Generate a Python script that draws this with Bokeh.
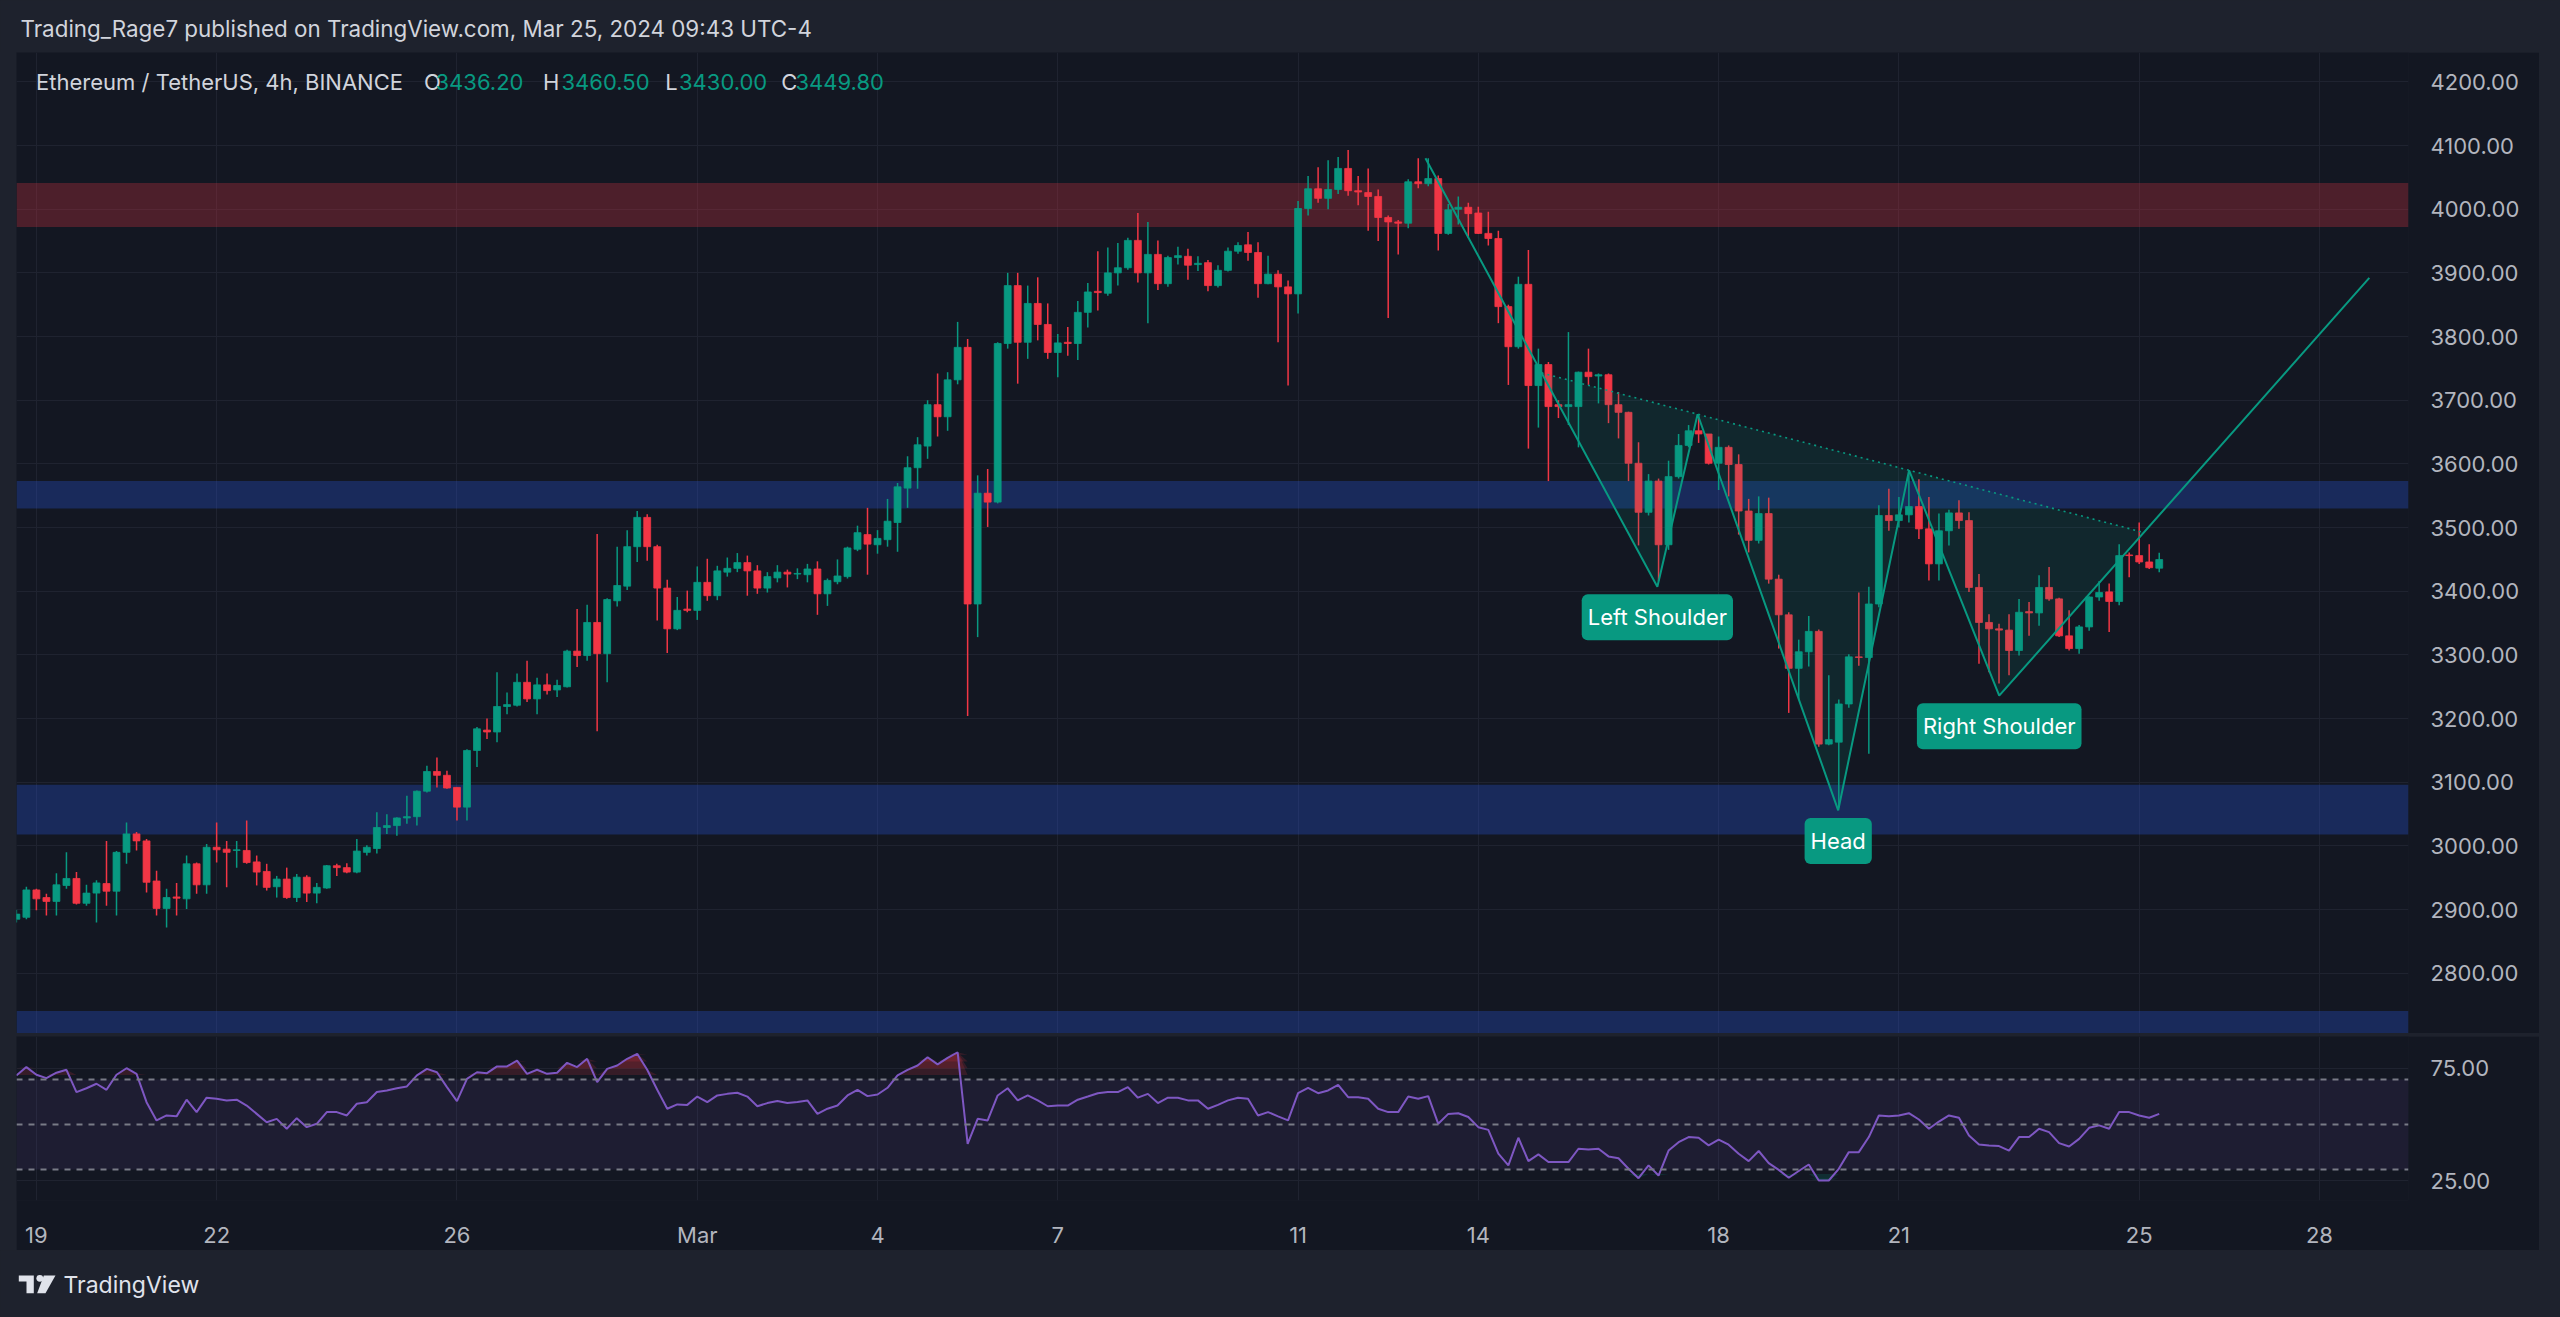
import numpy as np
import pandas as pd
from bokeh.plotting import figure
from bokeh.models import (Range1d, FixedTicker, NumeralTickFormatter, BoxAnnotation,
                          Span, Label, ColumnDataSource, Spacer)
from bokeh.layouts import column, row
from bokeh.embed import file_html
from bokeh.resources import INLINE

# ---------------- data ----------------
candle_start = "2024-02-18 16:00"   # 4h candles, UTC-4
axis_origin = "2024-02-19 00:00"

opens = [2885, 2888, 2931, 2919, 2913, 2938, 2949, 2910, 2926, 2941,
         2929, 2990, 3019, 3008, 2945, 2902, 2920, 2917, 2972, 2939,
         2998, 2995, 2993, 2993, 2975, 2960, 2936, 2948, 2919, 2951,
         2926, 2934, 2969, 2966, 2959, 2990, 2996, 3029, 3032, 3044,
         3046, 3086, 3117, 3111, 3092, 3061, 3150, 3182, 3179, 3219,
         3221, 3257, 3231, 3253, 3245, 3250, 3306, 3299, 3351, 3302,
         3385, 3408, 3470, 3516, 3470, 3405, 3341, 3372, 3370, 3414,
         3393, 3430, 3436, 3445, 3432, 3405, 3421, 3430, 3427, 3426,
         3435, 3396, 3415, 3423, 3466, 3489, 3473, 3481, 3508, 3562,
         3594, 3628, 3693, 3674, 3732, 3783, 3380, 3554, 3540, 3789,
         3880, 3791, 3852, 3819, 3775, 3791, 3789, 3838, 3871, 3868,
         3900, 3908, 3951, 3900, 3929, 3883, 3924, 3926, 3913, 3916,
         3880, 3904, 3934, 3944, 3932, 3883, 3898, 3878, 3867, 4001,
         4032, 4017, 4031, 4064, 4029, 4026, 4020, 3987, 3980, 3978,
         4043, 4040, 4048, 3962, 4000, 4003, 3994, 3962, 3954, 3847,
         3784, 3882, 3723, 3756, 3693, 3690, 3690, 3744, 3738, 3740,
         3693, 3681, 3601, 3524, 3573, 3473, 3580, 3629, 3652, 3647,
         3601, 3626, 3599, 3526, 3480, 3522, 3419, 3363, 3279, 3305,
         3337, 3160, 3163, 3223, 3297, 3296, 3380, 3519, 3511, 3520,
         3533, 3498, 3443, 3495, 3523, 3511, 3406, 3351, 3341, 3339,
         3307, 3368, 3366, 3406, 3388, 3330, 3310, 3344, 3391, 3399,
         3384, 3457, 3456, 3446, 3436.2]

highs = [2900, 2936, 2933, 2925, 2957, 2990, 2959, 2939, 2946, 3008,
         2992, 3037, 3022, 3011, 2961, 2933, 2942, 2985, 2974, 3003,
         3037, 3008, 3008, 3040, 2985, 2972, 2953, 2966, 2956, 2954,
         2942, 2970, 2972, 2973, 3011, 3001, 3053, 3050, 3045, 3079,
         3087, 3126, 3139, 3118, 3092, 3152, 3187, 3200, 3273, 3241,
         3271, 3291, 3264, 3271, 3261, 3308, 3372, 3379, 3490, 3389,
         3470, 3496, 3526, 3521, 3473, 3418, 3391, 3401, 3439, 3451,
         3440, 3453, 3460, 3456, 3441, 3430, 3441, 3434, 3436, 3443,
         3447, 3420, 3450, 3470, 3503, 3531, 3496, 3545, 3570, 3612,
         3642, 3700, 3742, 3744, 3823, 3796, 3582, 3592, 3791, 3900,
         3900, 3880, 3893, 3852, 3804, 3815, 3856, 3884, 3934, 3940,
         3947, 3955, 3994, 3980, 3951, 3927, 3941, 3938, 3926, 3920,
         3912, 3940, 3948, 3964, 3948, 3927, 3904, 3888, 4013, 4052,
         4066, 4077, 4082, 4093, 4052, 4064, 4031, 3990, 3983, 4047,
         4080, 4080, 4053, 4008, 4020, 4010, 4004, 3996, 3966, 3850,
         3894, 3936, 3781, 3760, 3700, 3807, 3745, 3781, 3742, 3742,
         3713, 3682, 3634, 3584, 3577, 3605, 3647, 3661, 3675, 3647,
         3643, 3629, 3615, 3545, 3549, 3547, 3426, 3367, 3324, 3361,
         3340, 3268, 3230, 3301, 3398, 3407, 3535, 3561, 3548, 3588,
         3576, 3548, 3522, 3528, 3543, 3524, 3427, 3364, 3349, 3364,
         3388, 3383, 3425, 3438, 3390, 3370, 3347, 3392, 3416, 3412,
         3474, 3461, 3508, 3474, 3460.5]

lows = [2880, 2885, 2899, 2891, 2891, 2933, 2908, 2906, 2880, 2906,
        2891, 2972, 2993, 2927, 2891, 2872, 2891, 2901, 2925, 2925,
        2974, 2935, 2966, 2972, 2938, 2930, 2919, 2917, 2912, 2912,
        2910, 2933, 2953, 2957, 2957, 2985, 2988, 3019, 3016, 3035,
        3032, 3084, 3092, 3090, 3040, 3040, 3124, 3168, 3163, 3207,
        3219, 3226, 3207, 3238, 3234, 3249, 3281, 3291, 3180, 3257,
        3376, 3402, 3446, 3448, 3354, 3303, 3339, 3367, 3355, 3385,
        3386, 3423, 3430, 3393, 3396, 3398, 3414, 3406, 3419, 3414,
        3363, 3377, 3411, 3420, 3463, 3426, 3459, 3470, 3462, 3531,
        3561, 3608, 3643, 3652, 3725, 3204, 3328, 3501, 3538, 3781,
        3726, 3765, 3794, 3765, 3736, 3770, 3763, 3814, 3841, 3864,
        3880, 3905, 3885, 3821, 3873, 3878, 3913, 3889, 3903, 3871,
        3877, 3902, 3930, 3919, 3861, 3882, 3791, 3723, 3836, 3990,
        4010, 4000, 4024, 4021, 4006, 3966, 3950, 3829, 3929, 3970,
        4033, 4036, 3935, 3960, 3976, 3955, 3961, 3943, 3821, 3724,
        3781, 3624, 3657, 3573, 3672, 3661, 3626, 3724, 3695, 3664,
        3640, 3573, 3472, 3519, 3416, 3465, 3577, 3626, 3633, 3599,
        3559, 3549, 3489, 3461, 3475, 3412, 3310, 3209, 3230, 3282,
        3156, 3158, 3060, 3217, 3283, 3145, 3375, 3495, 3500, 3508,
        3482, 3417, 3417, 3472, 3498, 3399, 3286, 3273, 3255, 3268,
        3299, 3330, 3346, 3385, 3328, 3307, 3302, 3338, 3385, 3336,
        3378, 3422, 3443, 3435, 3430.0]

closes = [2893, 2931, 2917, 2913, 2939, 2949, 2910, 2926, 2942, 2929,
          2990, 3019, 3008, 2943, 2902, 2919, 2918, 2972, 2939, 2998,
          2994, 2990, 2994, 2974, 2959, 2935, 2948, 2919, 2951, 2926,
          2935, 2969, 2966, 2959, 2992, 2998, 3029, 3032, 3044, 3046,
          3086, 3117, 3111, 3091, 3061, 3150, 3184, 3179, 3219, 3222,
          3257, 3231, 3253, 3244, 3252, 3306, 3299, 3351, 3302, 3387,
          3409, 3470, 3516, 3470, 3405, 3341, 3370, 3370, 3414, 3393,
          3432, 3436, 3445, 3432, 3405, 3423, 3430, 3427, 3428, 3435,
          3396, 3417, 3424, 3468, 3492, 3474, 3483, 3510, 3564, 3594,
          3630, 3693, 3674, 3732, 3783, 3380, 3554, 3540, 3789, 3880,
          3791, 3852, 3819, 3775, 3790, 3789, 3838, 3870, 3869, 3900,
          3908, 3951, 3900, 3929, 3883, 3924, 3927, 3912, 3915, 3880,
          3904, 3934, 3943, 3932, 3883, 3898, 3878, 3867, 4001, 4032,
          4017, 4031, 4064, 4029, 4027, 4020, 3987, 3980, 3978, 4043,
          4040, 4048, 3962, 3999, 4003, 3993, 3962, 3954, 3847, 3784,
          3882, 3723, 3756, 3690, 3690, 3693, 3744, 3737, 3740, 3693,
          3681, 3601, 3524, 3573, 3473, 3580, 3629, 3652, 3647, 3601,
          3626, 3599, 3526, 3480, 3522, 3419, 3363, 3279, 3305, 3337,
          3160, 3167, 3223, 3297, 3296, 3380, 3519, 3511, 3520, 3533,
          3498, 3443, 3495, 3523, 3511, 3406, 3351, 3341, 3339, 3307,
          3367, 3366, 3406, 3388, 3330, 3310, 3344, 3391, 3398, 3384,
          3456, 3456, 3446, 3437, 3449.8]

rsi_values = [71.8, 75.5, 72.1, 70.6, 73.0, 74.3, 64.4, 66.1, 68.1, 65.4,
              72.1, 75.0, 72.5, 59.9, 51.8, 54.0, 53.6, 61.0, 55.5, 61.9,
              61.4, 60.7, 61.0, 58.4, 54.7, 51.0, 52.5, 48.1, 52.8, 48.8,
              50.3, 55.5, 55.5, 54.0, 59.2, 59.9, 64.4, 65.1, 66.1, 66.9,
              71.8, 74.7, 73.2, 66.6, 60.4, 70.3, 73.2, 72.8, 75.8, 75.8,
              78.4, 72.5, 74.3, 72.5, 73.0, 77.4, 75.5, 79.2, 68.8, 74.7,
              76.2, 79.2, 81.4, 74.3, 65.4, 57.0, 58.9, 58.7, 62.4, 59.9,
              62.9, 63.6, 64.1, 62.4, 58.1, 59.5, 60.4, 59.5, 60.0, 60.7,
              54.7, 57.0, 58.4, 62.9, 65.4, 62.6, 63.3, 66.3, 71.8, 74.3,
              76.2, 79.9, 76.7, 79.6, 82.1, 41.4, 52.5, 51.8, 62.9, 66.1,
              60.7, 62.9, 60.7, 58.1, 58.4, 58.4, 61.0, 62.4, 63.9, 64.4,
              64.4, 66.6, 61.9, 63.6, 59.5, 61.9, 61.9, 60.7, 60.7, 57.0,
              58.7, 60.7, 61.9, 61.4, 54.0, 55.5, 53.6, 51.8, 63.9, 66.3,
              63.9, 65.1, 67.6, 62.1, 62.1, 61.4, 57.0, 55.5, 55.5, 62.4,
              61.4, 62.6, 50.3, 54.7, 55.0, 53.3, 48.8, 47.6, 37.0, 31.8,
              44.1, 33.7, 36.7, 33.3, 33.3, 33.3, 39.2, 38.9, 39.2, 35.8,
              35.0, 30.3, 26.1, 31.8, 27.3, 38.4, 42.1, 44.4, 44.1, 40.7,
              43.3, 41.0, 37.0, 33.7, 38.2, 32.8, 29.8, 26.3, 29.3, 32.2,
              25.1, 25.1, 30.3, 37.7, 37.7, 44.4, 54.0, 53.6, 54.0, 55.0,
              52.2, 48.1, 51.3, 54.0, 53.0, 45.1, 41.1, 40.7, 40.4, 38.4,
              44.4, 44.4, 48.1, 46.6, 41.7, 40.2, 43.6, 48.5, 49.6, 48.1,
              55.5, 55.5, 54.0, 53.0, 54.7]

time_tick_days = [0, 3, 7, 11, 14, 17, 21, 24, 28, 31, 35, 38]
time_tick_labels = ["19", "22", "26", "Mar", "4", "7", "11", "14", "18", "21", "25", "28"]
price_ticks = [2800, 2900, 3000, 3100, 3200, 3300, 3400, 3500, 3600, 3700,
               3800, 3900, 4000, 4100, 4200]
rsi_ticks = [25, 75]
rsi_levels = [70, 50, 30]

red_zones = [(3972, 4041)]
blue_zones = [(3530, 3573), (3018, 3096), (2700, 2741)]

# head & shoulders drawing: start, left shoulder, neck1, head, neck2, right shoulder, end
hs_days = [23.12, 26.98, 27.65, 29.99, 31.17, 32.67, 38.83]
hs_prices = [4080, 3407, 3678, 3056, 3590, 3236, 3892]
hs_labels = ["Left Shoulder", "Head", "Right Shoulder"]

last_price = "3449.80"
countdown = "02:16:56"
legend_parts = [("Ethereum / TetherUS, 4h, BINANCE", "name"), ("O", "key"), ("3436.20", "val"),
                ("H", "key"), ("3460.50", "val"), ("L", "key"), ("3430.00", "val"),
                ("C", "key"), ("3449.80", "val")]

# ---------------- styling ----------------
BG = "#131722"
OUTER = "#1e222d"
TXT = "#d1d4dc"
AXIS_TXT = "#b2b5be"
UP = "#089981"
DOWN = "#f23645"
GRID = "#1f2330"
SEP = "#2a2e39"
FONT = "Inter"

# pixel geometry of the reference (used only to place the frame and texts)
X0_PX, PX_PER_DAY = 35.9, 60.08
Y_REF_PX, Y_REF_PRICE, PX_PER_USD = 145.0, 4100.0, 0.6368


def day_from_px(x):
    return (x - X0_PX) / PX_PER_DAY


def price_from_px(y):
    return Y_REF_PRICE - (y - Y_REF_PX) / PX_PER_USD


times = pd.date_range(candle_start, periods=len(opens), freq="4h")
days = ((times - pd.Timestamp(axis_origin)) / pd.Timedelta(days=1)).to_numpy(dtype=float)

o = np.array(opens, dtype=float)
h = np.array(highs, dtype=float)
l = np.array(lows, dtype=float)
c = np.array(closes, dtype=float)
r = np.array(rsi_values, dtype=float)
colors = [UP if cc >= oo else DOWN for oo, cc in zip(o, c)]

xr = Range1d(day_from_px(16), day_from_px(2408))

# ---------------- main pane ----------------
main = figure(frame_width=2392, frame_height=981, x_range=xr,
              y_range=Range1d(price_from_px(1033), price_from_px(52)),
              x_axis_location=None, y_axis_location="right", toolbar_location=None,
              output_backend="svg", min_border_left=0, min_border_right=131,
              min_border_top=0, min_border_bottom=0, background_fill_color=BG,
              border_fill_color=BG, outline_line_color=None)
ya = main.yaxis[0]
ya.ticker = FixedTicker(ticks=price_ticks)
ya.formatter = NumeralTickFormatter(format="0.00")
ya.axis_line_color = None
ya.major_tick_line_color = None
ya.minor_tick_line_color = None
ya.major_label_text_color = AXIS_TXT
ya.major_label_text_font_size = "22px"
ya.major_label_text_font = FONT
ya.major_label_standoff = 16
main.ygrid.grid_line_color = GRID
main.xgrid.ticker = FixedTicker(ticks=time_tick_days)
main.xgrid.grid_line_color = GRID

for lo, hi in red_zones:
    main.add_layout(BoxAnnotation(bottom=lo, top=hi, fill_color=DOWN, fill_alpha=0.26,
                                  line_color=None, level="underlay"))
for lo, hi in blue_zones:
    main.add_layout(BoxAnnotation(bottom=lo, top=hi, fill_color="#2962ff", fill_alpha=0.26,
                                  line_color=None, level="underlay"))

src = ColumnDataSource(dict(x=days, top=np.maximum(o, c), bottom=np.minimum(o, c),
                            high=h, low=l, color=colors))
main.segment(x0="x", y0="low", x1="x", y1="high", line_color="color", line_width=1.5, source=src)
main.vbar(x="x", width=0.115, top="top", bottom="bottom", fill_color="color",
          line_color="color", line_width=0.8, source=src)


# head & shoulders geometry
def intersect(p1, p2, p3, p4):
    (x1, y1), (x2, y2), (x3, y3), (x4, y4) = p1, p2, p3, p4
    d = (x1 - x2) * (y3 - y4) - (y1 - y2) * (x3 - x4)
    t = ((x1 - x3) * (y3 - y4) - (y1 - y3) * (x3 - x4)) / d
    return (x1 + t * (x2 - x1), y1 + t * (y2 - y1))


P = list(zip(hs_days, hs_prices))
n_left = intersect(P[0], P[1], P[2], P[4])
n_right = intersect(P[5], P[6], P[2], P[4])
tri = [[n_left, P[1], P[2]], [P[2], P[3], P[4]], [P[4], P[5], n_right]]
main.patches(xs=[[q[0] for q in t] for t in tri], ys=[[q[1] for q in t] for t in tri],
             fill_color=UP, fill_alpha=0.12, line_color=None)
main.line([n_left[0], n_right[0]], [n_left[1], n_right[1]], line_color=UP,
          line_width=1.6, line_dash="2 4")
main.line(hs_days, hs_prices, line_color=UP, line_width=2)

for txt, idx in zip(hs_labels, [1, 3, 5]):
    main.add_layout(Label(x=hs_days[idx], y=hs_prices[idx] - 48, text=txt,
                          text_align="center", text_baseline="middle", text_color="#ffffff",
                          text_font=FONT, text_font_size="22px",
                          background_fill_color=UP, background_fill_alpha=1.0,
                          padding=(6, 10), border_radius=6))

# legend line
legend_x_px = [35.6, 423.6, 435.0, 542.5, 561.0, 664.8, 678.5, 780.7, 795.0]
leg_y = price_from_px(81.7)
for (txt, kind), xp in zip(legend_parts, legend_x_px):
    main.add_layout(Label(x=day_from_px(xp), y=leg_y, text=txt, text_align="left",
                          text_baseline="middle", text_font=FONT, text_font_size="22px",
                          text_color=(UP if kind == "val" else TXT)))

# last price tag on the price scale
main.add_layout(Label(x=day_from_px(2424), y=price_from_px(570), text=last_price + "\n" + countdown,
                      text_align="left", text_baseline="middle", text_font=FONT,
                      text_font_size="22px", text_color="#ffffff", text_line_height=1.15,
                      background_fill_color="#4c4f59", background_fill_alpha=1.0,
                      padding=(3, 14)))

# ---------------- RSI pane ----------------
rsi_fig = figure(frame_width=2392, frame_height=164, x_range=xr, y_range=Range1d(16.2, 89.1),
                 x_axis_location="below", y_axis_location="right", toolbar_location=None,
                 output_backend="svg", min_border_left=0, min_border_right=131,
                 min_border_top=0, min_border_bottom=49, background_fill_color=BG,
                 border_fill_color=BG, outline_line_color=None)
rsi_fig.add_layout(BoxAnnotation(bottom=30, top=70, fill_color="#7e57c2", fill_alpha=0.1,
                                 line_color=None, level="underlay"))
for lev in rsi_levels:
    rsi_fig.add_layout(Span(location=lev, dimension="width", line_color="#787b86",
                            line_width=2, line_dash="6 6"))
for t in [72, 75, 78, 81]:
    rsi_fig.varea(x=days, y1=np.full(len(r), float(t)), y2=np.maximum(r, t),
                  fill_color=DOWN, fill_alpha=0.16)
for t in [28, 26]:
    rsi_fig.varea(x=days, y1=np.minimum(r, t), y2=np.full(len(r), float(t)),
                  fill_color=UP, fill_alpha=0.18)
rsi_fig.line(days, r, line_color="#7e57c2", line_width=2)

ry = rsi_fig.yaxis[0]
ry.ticker = FixedTicker(ticks=rsi_ticks)
ry.formatter = NumeralTickFormatter(format="0.00")
xa = rsi_fig.xaxis[0]
xa.ticker = FixedTicker(ticks=time_tick_days)
xa.major_label_overrides = {d: lab for d, lab in zip(time_tick_days, time_tick_labels)}
for ax in (ry, xa):
    ax.axis_line_color = None
    ax.major_tick_line_color = None
    ax.minor_tick_line_color = None
    ax.major_label_text_color = AXIS_TXT
    ax.major_label_text_font_size = "22px"
    ax.major_label_text_font = FONT
ry.major_label_standoff = 16
xa.major_label_standoff = 15
rsi_fig.grid.grid_line_color = GRID

# ---------------- header / separator / footer ----------------
def blank(width, height, color):
    f = figure(width=width, height=height, x_range=Range1d(0, width), y_range=Range1d(height, 0),
               x_axis_location=None, y_axis_location=None, toolbar_location=None,
               output_backend="svg", min_border=0, background_fill_color=color,
               border_fill_color=color, outline_line_color=None)
    f.grid.visible = False
    return f


header = blank(2560, 52, OUTER)
header.add_layout(Label(x=20, y=28, text="Trading_Rage7 published on TradingView.com, Mar 25, 2024 09:43 UTC-4",
                        text_baseline="middle", text_align="left", text_font=FONT,
                        text_font_size="22.4px", text_color=TXT))

sep = blank(2523, 3, SEP)

footer = blank(2560, 68, OUTER)
footer.patches(xs=[[18.3, 33.3, 33.3, 26.0, 26.0, 18.3], [43.3, 55.0, 45.0, 36.7]],
               ys=[[25.0, 25.0, 42.7, 42.7, 31.0, 31.0], [25.0, 25.0, 42.7, 42.7]],
               fill_color="#e0e3eb", line_color=None)
footer.scatter([39.3], [27.8], size=6.8, fill_color="#e0e3eb", line_color=None)
footer.add_layout(Label(x=63, y=34.5, text="TradingView", text_baseline="middle", text_align="left",
                        text_font=FONT, text_font_size="23px", text_font_style="normal",
                        text_color="#e0e3eb"))

layout = column(header,
                row(Spacer(width=16), main),
                row(Spacer(width=16), sep),
                row(Spacer(width=16), rsi_fig),
                footer)

TEMPLATE = ("{% block preamble %}<style>html, body { margin: 0 !important; padding: 0 !important; "
            "background-color: #1e222d !important; overflow: hidden; }</style>{% endblock %}")
try:
    html = file_html(layout, INLINE, title="ETHUSDT 4h", template=TEMPLATE)
except Exception:
    html = file_html(layout, INLINE, title="ETHUSDT 4h")
open("out.html", "w").write(html)
